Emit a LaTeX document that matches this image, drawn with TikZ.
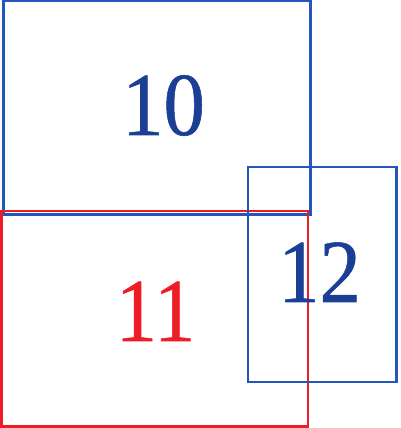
\documentclass[tikz,border=0pt]{standalone}
\usepackage{fontspec}
\setmainfont{Liberation Serif}
\newfontfamily\numfont[FakeBold=0.6,FakeStretch=0.92]{Liberation Serif}
\definecolor{lineblue}{HTML}{2456BE}
\definecolor{textblue}{HTML}{1C3F96}
\definecolor{linered}{HTML}{EE1C24}
\begin{document}
\begin{tikzpicture}[x=1pt,y=1pt,
  blueframe/.style={draw=lineblue,line width=2.6pt},
  redframe/.style={draw=linered,line width=2.6pt},
  bignum/.style={anchor=base,inner sep=0pt,font=\numfont\fontsize{90}{90}\selectfont}]
\useasboundingbox (0,0) rectangle (401,428);
\draw[blueframe] (3.5,213.5) rectangle (310.5,427);
\draw[redframe] (1.3,1.5) rectangle (308,217);
\draw[blueframe] (248,46) rectangle (396.5,261);
\node[bignum,text=textblue] (n10) at (163.5,293) {10};
\node[bignum,text=linered] (n11) at (155.5,87) {11};
\node[bignum,text=textblue] (n12) at (319.5,126) {12};
\end{tikzpicture}
\end{document}
